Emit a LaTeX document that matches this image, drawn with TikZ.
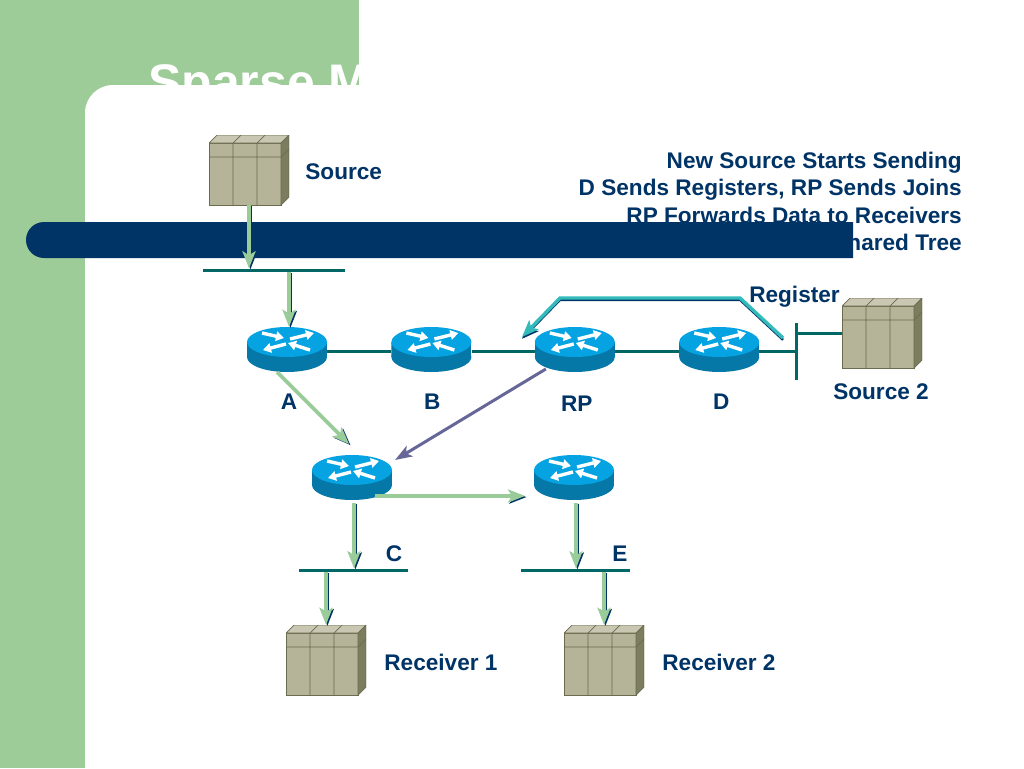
\documentclass[tikz,border=0pt]{standalone}
\usepackage{fontspec}
\setmainfont{Liberation Sans}
\usetikzlibrary{positioning, arrows.meta}

\definecolor{leaf}{HTML}{9DCC99}
\definecolor{navy}{HTML}{003366}
\definecolor{wire}{HTML}{006666}
\definecolor{flowgreen}{HTML}{99CC99}
\definecolor{regteal}{HTML}{33BBBB}
\definecolor{rppurple}{HTML}{666699}
\definecolor{rtop}{HTML}{05A3E2}
\definecolor{rside}{HTML}{0578A8}
\definecolor{boxfront}{HTML}{B5B398}
\definecolor{boxtop}{HTML}{C9C7B2}
\definecolor{boxside}{HTML}{7C7C5E}
\definecolor{boxline}{HTML}{6B6B50}

\begin{document}
\begin{tikzpicture}[x=1pt, y=-1pt,
    router/.style = {shape=rectangle, inner sep=0pt, minimum width=80pt, minimum height=48pt,
      path picture={
        \begin{scope}[shift={(path picture bounding box.center)}]
          \fill[rside] (0,6) ellipse [x radius=40pt, y radius=15pt];
          \fill[rside] (-40,-9) rectangle (40,6);
          \fill[rtop] (0,-9) ellipse [x radius=40pt, y radius=15pt];
          \foreach \xa/\ya/\xb/\yb in {-25/-18/-3/-13, 3/-12/27/-18, -1/-7/-24/-1, 23/-1/1/-8}
            \draw[white, line width=3.4pt, -{Triangle[length=8pt, width=9.5pt]}] (\xa,\ya) -- (\xb,\yb);
        \end{scope}
      }},
    server/.style = {shape=rectangle, inner sep=0pt, minimum width=80pt, minimum height=70pt,
      path picture={
        \begin{scope}[shift={(path picture bounding box.center)}, draw=boxline, line width=0.7pt]
          \filldraw[fill=boxfront] (-40,-27) rectangle (32,35);
          \filldraw[fill=boxtop] (-40,-27) -- (-32,-35) -- (40,-35) -- (32,-27) -- cycle;
          \filldraw[fill=boxside] (32,-27) -- (40,-35) -- (40,27) -- (32,35) -- cycle;
          \draw (-16,-27) -- (-16,35) (8,-27) -- (8,35) (-40,-13) -- (32,-13) -- (40,-21);
          \draw (-16,-27) -- (-8,-35) (8,-27) -- (16,-35);
        \end{scope}
      }},
    lan/.style = {shape=rectangle, inner sep=0pt, fill=wire},
    lbl/.style = {inner sep=0pt, text=navy, font=\fontsize{22.6}{27.3}\selectfont\bfseries},
    link/.style = {draw=wire, line width=3pt},
    flow/.style = {draw=flowgreen, line width=3.6pt, -{Stealth[length=17pt, width=13pt, inset=4pt]},
      preaction={draw=navy, line width=2.6pt, transform canvas={xshift=1.4pt, yshift=-1.1pt}}},
    regflow/.style = {draw=regteal, line width=3.4pt, -{Stealth[length=17pt, width=13pt, inset=4pt]},
      preaction={draw=navy, line width=2.4pt, transform canvas={yshift=-1.8pt}}},
    rpflow/.style = {draw=rppurple, line width=3pt, -{Stealth[length=17pt, width=12pt, inset=4pt]}}]

  \useasboundingbox (0,0) rectangle (1024,768);
  \fill[white] (0,0) rectangle (1024,768);
  \fill[leaf] (0,0) rectangle (359,768);

  \node[anchor=base west, inner sep=0pt, text=white, font=\fontsize{50}{50}\selectfont\bfseries] (title) at (148,99) {Sparse M};

  \fill[white] (85,768) [rounded corners=28pt] -- (85,85) -- (359,85) [sharp corners] -- (1024,85) -- (1024,768) -- cycle;
  \fill[white] (359,0) rectangle (1024,85);

  \node[lbl, anchor=north east, align=right] (steps) at (962,152)
    {New Source Starts Sending\\D Sends Registers, RP Sends Joins\\RP Forwards Data to Receivers\\Shared Tree};

  \fill[navy] (853,222) [rounded corners=18pt] -- (26,222) -- (26,258) [sharp corners] -- (853,258) -- cycle;

  % routers
  \node[router] (ra) at (287,351) {};
  \node[router, right=64pt of ra] (rb) {};
  \node[router, right=63pt of rb] (rp) {};
  \node[router, right=64pt of rp] (rd) {};
  \node[router] (rc) at (352,479) {};
  \node[router] (re) at (574,479) {};

  % end stations
  \node[server] (source) at (249,170) {};
  \node[server] (sourceb) at (882,333) {};
  \node[server] (rcva) at (326,660) {};
  \node[server] (rcvb) at (604,660) {};

  % lans
  \node[lan, minimum width=142pt, minimum height=3pt] (lansrc) at (274,270) {};
  \node[lan, minimum width=3pt, minimum height=57pt] (lansb) at (796.5,351.5) {};
  \node[lan, minimum width=109pt, minimum height=3pt] (lanc) at (353.5,570) {};
  \node[lan, minimum width=109pt, minimum height=3pt] (lane) at (575.5,570) {};

  \draw[link] (ra) -- (rb);
  \draw[link] (rb) -- (rp);
  \draw[link] (rp) -- (rd);
  \draw[link] (rd) -- (rd -| lansb.west);
  \draw[link] (sourceb.west) -- (sourceb.west -| lansb.east);

  % data flows
  \draw[flow] (source.south) -- (source.south |- lansrc.north);
  \draw[flow] ([xshift=15pt]lansrc.south) -- ([xshift=2pt]ra.north);
  \draw[flow] ([shift={(-10,21)}]ra.center) -- ([shift={(-3,-35)}]rc.center);
  \draw[flow] ([shift={(23,17)}]rc.center) -- ([shift={(-49,17)}]re.center);
  \draw[flow] ([xshift=2pt]rc.south) -- ([xshift=2pt]rc.south |- lanc.north);
  \draw[flow] ([xshift=2pt]re.south) -- ([xshift=2pt]re.south |- lane.north);
  \draw[flow] (rcva.north |- lanc.south) -- (rcva.north);
  \draw[flow] (rcvb.north |- lane.south) -- (rcvb.north);

  \draw[rpflow] ([shift={(-29,18)}]rp.center) -- ([shift={(43,-19)}]rc.center);

  % register path
  \coordinate (regstart) at (783,338);
  \coordinate (regright) at (740,298);
  \coordinate (regleft) at (560,298);
  \coordinate (regend) at (522,337);
  \draw[regflow] (regstart) -- (regright) -- (regleft) -- (regend);

  \node[lbl, right=16pt of source, yshift=-2pt] (lblsource) {Source};
  \node[lbl, below=15pt of sourceb, xshift=-1pt] (lblsourceb) {Source 2};
  \node[lbl, right=18pt of rcva, yshift=-2pt] (lblrcva) {Receiver 1};
  \node[lbl, right=18pt of rcvb, yshift=-2pt] (lblrcvb) {Receiver 2};
  \node[lbl] (lblreg) at (794.5,297) {Register};
  \node[lbl, below=19pt of ra, xshift=2pt] (lbla) {A};
  \node[lbl, below=19pt of rb, xshift=1pt] (lblb) {B};
  \node[lbl, below=21pt of rp, xshift=2pt] (lblrp) {RP};
  \node[lbl, below=19pt of rd, xshift=2pt] (lbld) {D};
  \node[lbl] (lblc) at (394,554) {C};
  \node[lbl] (lble) at (620,554) {E};
\end{tikzpicture}
\end{document}
